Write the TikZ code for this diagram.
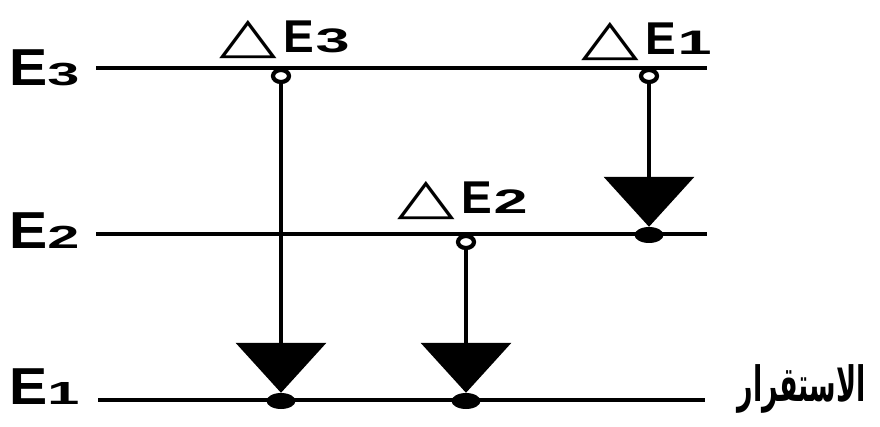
\documentclass[tikz,border=0pt]{standalone}
\usepackage{graphicx}
\usepackage{fontspec}
\setmainfont{Liberation Sans}
\newfontfamily\widefont[FakeStretch=1.8]{Liberation Sans}
\newfontfamily\lvlfont[FakeStretch=1.1]{Liberation Sans}
\newfontfamily\symfont{DejaVu Sans}
\newfontfamily\arabicfont[Script=Arabic]{DejaVu Sans}
\TeXXeTstate=1
\usetikzlibrary{arrows.meta,shapes.geometric}

\newcommand{\lvllabel}[1]{{\lvlfont\bfseries\fontsize{52}{52}\selectfont E}{\widefont\bfseries\fontsize{32}{32}\selectfont #1}}
\newcommand{\dlabel}[1]{{\symfont\fontsize{50}{50}\selectfont\scalebox{1.5}[1]{△}}\hspace{7pt}{\bfseries\fontsize{46}{46}\selectfont E}\hspace{1pt}{\widefont\bfseries\fontsize{34}{34}\selectfont #1}}

\tikzset{
  level/.style={line width=4.5pt},
  opencirc/.style={ellipse, draw, line width=4.2pt, minimum width=16pt, minimum height=12pt, inner sep=0pt},
  dotnode/.style={ellipse, fill, minimum width=29pt, minimum height=16pt, inner sep=0pt},
  trans/.style={line width=4pt, -{Triangle[width=90pt,length=50pt]}},
  lbl/.style={inner sep=0pt, anchor=base west}
}

\begin{document}
\begin{tikzpicture}[x=1pt,y=-1pt]
\fill[white] (0,0) rectangle (880,427);
\useasboundingbox (0,0) rectangle (880,427);

% level lines
\coordinate (L3a) at (96,68);  \coordinate (L3b) at (707,68);
\coordinate (L2a) at (96,234); \coordinate (L2b) at (707,234);
\coordinate (L1a) at (98,400); \coordinate (L1b) at (705,400);

% level labels
\node[lbl] (e3) at (9,86) {\lvllabel{3}};
\node[lbl] (e2) at (9,249) {\lvllabel{2}};
\node[lbl] (e1) at (9,404) {\lvllabel{1}};

% transition labels
\node[lbl] (de3) at (219,53) {\dlabel{3}};
\node[lbl] (de1) at (581,55) {\dlabel{1}};
\node[lbl] (de2) at (397,214) {\dlabel{2}};

% start circles
\node[opencirc] (o3) at (281,76) {};
\node[opencirc] (o1) at (649,76) {};
\node[opencirc] (o2) at (466,242) {};

% end dots
\node[dotnode] (d3) at (281,401) {};
\node[dotnode] (d1) at (649,235) {};
\node[dotnode] (d2) at (466,401) {};

% transitions
\draw[trans] (o3) -- (d3);
\draw[trans] (o1) -- (d1);
\draw[trans] (o2) -- (d2);

\draw[level] (L3a) -- (L3b);
\draw[level] (L2a) -- (L2b);
\draw[level] (L1a) -- (L1b);

% arabic label
\node[inner sep=0pt, anchor=base east] (stab) at (866,401) {\scalebox{1}[1.8]{\resizebox{128pt}{!}{\arabicfont\bfseries\fontsize{30}{30}\selectfont\beginR الاستقرار\endR}}};
\end{tikzpicture}
\end{document}
